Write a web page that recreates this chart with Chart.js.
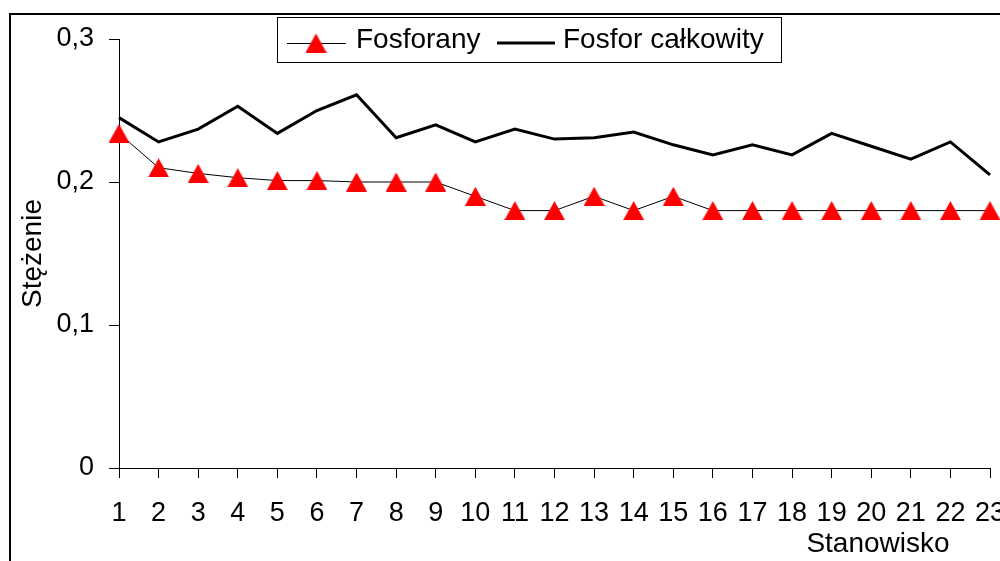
<!DOCTYPE html>
<html>
<head>
<meta charset="utf-8">
<script src="https://cdn.jsdelivr.net/npm/chart.js@4/dist/chart.umd.min.js"></script>
<style>
  html, body { margin: 0; padding: 0; background: #fff; }
  body { width: 1000px; height: 561px; overflow: hidden; }
  canvas { display: block; }
</style>
</head>
<body>
<canvas id="chart" width="1040" height="600"></canvas>
<script>
var FONT = '"Liberation Sans", Arial, sans-serif';

var stanowiska = ['1','2','3','4','5','6','7','8','9','10','11','12','13','14','15','16','17','18','19','20','21','22','23'];
var fosforany = [0.234, 0.21, 0.206, 0.203, 0.201, 0.201, 0.2, 0.2, 0.2, 0.19, 0.18, 0.18, 0.19, 0.18, 0.19, 0.18, 0.18, 0.18, 0.18, 0.18, 0.18, 0.18, 0.18];
var fosforCalkowity = [0.245, 0.228, 0.237, 0.253, 0.234, 0.25, 0.261, 0.231, 0.24, 0.228, 0.237, 0.23, 0.231, 0.235, 0.226, 0.219, 0.226, 0.219, 0.234, 0.225, 0.216, 0.228, 0.205];

// red triangle marker, centred on its bounding box
var tri = document.createElement('canvas');
tri.width = 21; tri.height = 19;
var tc = tri.getContext('2d');
tc.fillStyle = '#ff0000';
tc.beginPath();
tc.moveTo(10.5, 0);
tc.lineTo(21, 19);
tc.lineTo(0, 19);
tc.closePath();
tc.fill();

var decorations = {
  id: 'decorations',
  afterDraw: function(chart) {
    var ctx = chart.ctx;
    ctx.save();
    // outer frame (right and bottom edges fall outside the view)
    ctx.strokeStyle = '#000';
    ctx.lineWidth = 2;
    ctx.strokeRect(10, 14, 1200, 800);

    // legend
    ctx.lineWidth = 1;
    ctx.strokeRect(277.5, 17.5, 504, 45);
    ctx.beginPath();
    ctx.moveTo(287, 43.5); ctx.lineTo(346, 43.5);
    ctx.stroke();
    ctx.drawImage(tri, 316 - 10.5, 43 - 9.5);
    ctx.lineWidth = 3;
    ctx.beginPath();
    ctx.moveTo(497, 43); ctx.lineTo(555, 43);
    ctx.stroke();
    ctx.fillStyle = '#000';
    ctx.font = '28px ' + FONT;
    ctx.textBaseline = 'middle';
    ctx.textAlign = 'left';
    ctx.fillText('Fosforany', 356, 40);
    ctx.fillText('Fosfor całkowity', 563, 40);

    // x axis title
    ctx.textAlign = 'center';
    ctx.fillText('Stanowisko', 878, 544);
    ctx.restore();
  }
};

var ctx = document.getElementById('chart').getContext('2d');
var chart = new Chart(ctx, {
  type: 'line',
  plugins: [decorations],
  data: {
    labels: stanowiska,
    datasets: [
      {
        label: 'Fosforany',
        data: fosforany,
        borderColor: '#000',
        borderWidth: 1,
        pointStyle: tri,
        pointRadius: 10,
        pointHoverRadius: 10,
        tension: 0,
        clip: false
      },
      {
        label: 'Fosfor całkowity',
        data: fosforCalkowity,
        borderColor: '#000',
        borderWidth: 3,
        pointRadius: 0,
        pointHoverRadius: 0,
        tension: 0,
        clip: false
      }
    ]
  },
  options: {
    responsive: false,
    animation: false,
    events: [],
    layout: { padding: { left: 0, top: 39, right: 50, bottom: 0 } },
    plugins: {
      legend: { display: false },
      tooltip: { enabled: false }
    },
    scales: {
      x: {
        offset: false,
        afterFit: function(s) { s.height = 132; },
        grid: { display: true, drawOnChartArea: false, drawTicks: true, tickLength: 10, color: '#000' },
        border: { display: true, color: '#000', width: 1 },
        ticks: {
          color: '#000',
          font: { family: FONT, size: 27 },
          padding: 19,
          maxRotation: 0,
          autoSkip: false
        }
      },
      y: {
        min: 0,
        max: 0.3,
        afterFit: function(s) { s.width = 119; },
        grid: { display: true, drawOnChartArea: false, drawTicks: true, tickLength: 10, color: '#000' },
        border: { display: true, color: '#000', width: 1 },
        ticks: {
          stepSize: 0.1,
          color: '#000',
          font: { family: FONT, size: 27 },
          padding: 15,
          callback: function(v) { return v === 0 ? '0' : v.toFixed(1).replace('.', ','); }
        },
        title: {
          display: true,
          text: 'Stężenie',
          color: '#000',
          font: { family: FONT, size: 28 },
          padding: { top: 16, bottom: 0 }
        }
      }
    }
  }
});
</script>
</body>
</html>
